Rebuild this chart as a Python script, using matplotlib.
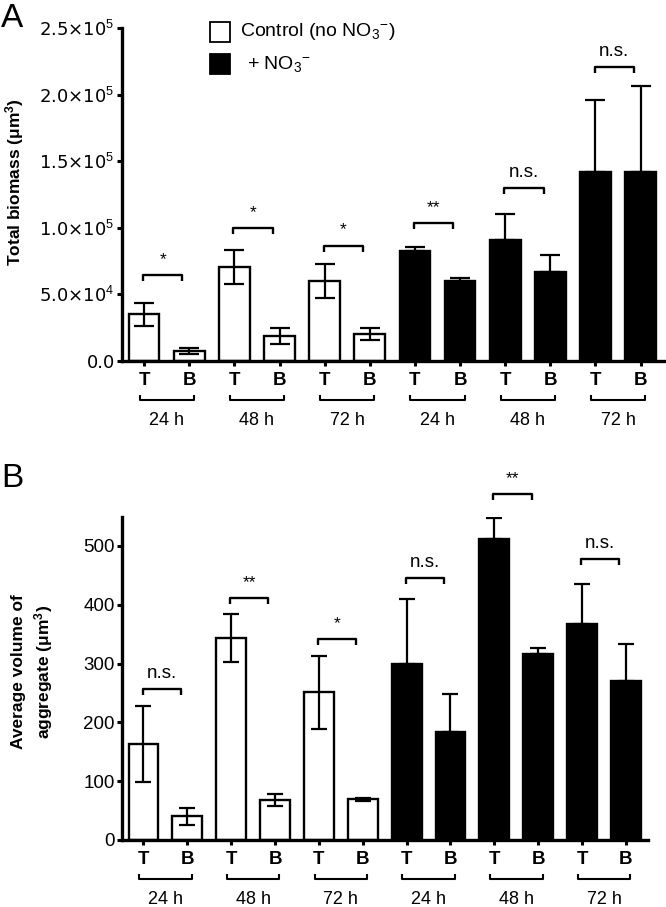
import numpy as np
import matplotlib
matplotlib.use('Agg')
import matplotlib.pyplot as plt
from matplotlib.patches import Rectangle

plt.rcParams['font.family'] = ['Liberation Sans', 'DejaVu Sans']
plt.rcParams['mathtext.fontset'] = 'custom'
plt.rcParams['mathtext.rm'] = 'Liberation Sans'
plt.rcParams['mathtext.it'] = 'Liberation Sans:italic'
plt.rcParams['mathtext.bf'] = 'Liberation Sans:bold'

# ---------------- data ----------------
bar_labels = ['T', 'B'] * 6
group_labels = ['24 h', '48 h', '72 h', '24 h', '48 h', '72 h']
legend_labels = ['Control (no NO$_3$$^{-}$)', '+ NO$_3$$^{-}$']

# Panel A: total biomass (um^3); order T24, B24, T48, B48, T72, B72
a_ctrl_mean = [35000, 7500, 70500, 19000, 60000, 20000]
a_ctrl_err = [8500, 2500, 12500, 6000, 12500, 4500]
a_no3_mean = [82500, 60000, 90500, 67000, 142000, 142000]
a_no3_err = [3000, 2000, 20000, 12500, 54000, 64500]
a_sig = ['*', '*', '*', '**', 'n.s.', 'n.s.']
a_sig_y = [64600, 100000, 86600, 103800, 129700, 221000]
a_yticks = [0, 50000, 100000, 150000, 200000, 250000]
a_yticklabels = ['0.0', '5.0×10$^{4}$', '1.0×10$^{5}$', '1.5×10$^{5}$',
                 '2.0×10$^{5}$', '2.5×10$^{5}$']

# Panel B: average volume of aggregate (um^3)
b_ctrl_mean = [163, 40, 343, 68, 251, 69]
b_ctrl_err = [65, 15, 41, 10, 62, 3]
b_no3_mean = [299, 183, 512, 317, 367, 271]
b_no3_err = [111, 66, 35, 9, 68, 62]
b_sig = ['n.s.', '**', '*', 'n.s.', '**', 'n.s.']
b_sig_y = [256, 412, 342, 446, 588, 478]
b_yticks = [0, 100, 200, 300, 400, 500]
b_yticklabels = ['0', '100', '200', '300', '400', '500']

# ---------------- figure ----------------
W, H = 666, 907
fig = plt.figure(figsize=(W / 100, H / 100), dpi=100)


def ax_rect(l, r, t, b):
    return [l / W, 1 - b / H, (r - l) / W, (b - t) / H]


axA = fig.add_axes(ax_rect(122, 665, 28, 361))
axB = fig.add_axes(ax_rect(122, 648.3, 516.6, 840))


def draw_panel(ax, ctrl_mean, ctrl_err, no3_mean, no3_err, ylim, yticks,
               yticklabels, sig, sig_y, xlim, capsize, tick_font):
    n = len(ctrl_mean)
    x_ctrl = np.arange(n)
    x_no3 = np.arange(n, 2 * n)
    ax.set_xlim(*xlim)
    ax.set_ylim(*ylim)
    ax_h_px = ax.get_position().height * H
    ppu = ax_h_px / (ylim[1] - ylim[0])  # pixels per data unit

    ax.bar(x_ctrl, ctrl_mean, width=0.68, color='white', edgecolor='black',
           linewidth=1.7, zorder=2)
    ax.errorbar(x_ctrl, ctrl_mean, yerr=ctrl_err, fmt='none', ecolor='black',
                elinewidth=1.6, capsize=capsize, capthick=1.6, zorder=3)
    ax.bar(x_no3, no3_mean, width=0.68, color='black', edgecolor='black',
           linewidth=1.7, zorder=2)
    ax.errorbar(x_no3, no3_mean, yerr=[np.zeros(n), no3_err], fmt='none',
                ecolor='black', elinewidth=1.6, capsize=capsize, capthick=1.6,
                zorder=3)

    for s in ['top', 'right']:
        ax.spines[s].set_visible(False)
    for s in ['left', 'bottom']:
        ax.spines[s].set_linewidth(2.4)
    ax.set_yticks(yticks)
    ax.set_yticklabels(yticklabels, **tick_font)
    ax.tick_params(axis='y', direction='out', length=3.8, width=2.2, pad=1.5)
    ax.set_xticks(np.arange(2 * n))
    ax.set_xticklabels(bar_labels, fontsize=13.5, fontweight='bold')
    ax.tick_params(axis='x', direction='out', length=3.8, width=2.2, pad=4.0)

    # significance brackets
    leg = 6 / ppu
    for i in range(n):
        x0 = 2 * i - 0.02
        x1 = 2 * i + 0.85
        y = sig_y[i]
        ax.plot([x0, x0, x1, x1], [y - leg, y, y, y - leg], color='black',
                lw=1.7, clip_on=False, solid_capstyle='butt', zorder=4)
        fs = 13.5 if sig[i] == 'n.s.' else 12.5
        ax.annotate(sig[i], xy=((x0 + x1) / 2, y), xytext=(0, 8),
                    textcoords='offset points', ha='center', va='baseline',
                    fontsize=fs, annotation_clip=False)

    # group brackets under the axis
    tr = ax.get_xaxis_transform()
    yb = -39 / ax_h_px
    yl = -34 / ax_h_px
    ylab = -64.4 / ax_h_px
    for g in range(n):
        xc = 2 * g + 0.5
        x0, x1 = xc - 0.6, xc + 0.6
        ax.plot([x0, x0, x1, x1], [yl, yb, yb, yl], color='black', lw=1.5,
                transform=tr, clip_on=False, solid_capstyle='butt')
        ax.text(xc, ylab, group_labels[g], transform=tr, ha='center',
                va='baseline', fontsize=13)


draw_panel(axA, a_ctrl_mean, a_ctrl_err, a_no3_mean, a_no3_err,
           (0, 250000), a_yticks, a_yticklabels, a_sig, a_sig_y,
           (-0.49, 11.54), 7.5,
           dict(fontsize=13, family=['DejaVu Sans']))
draw_panel(axB, b_ctrl_mean, b_ctrl_err, b_no3_mean, b_no3_err,
           (0, 550), b_yticks, b_yticklabels, b_sig, b_sig_y,
           (-0.49, 11.51), 6, dict(fontsize=13.5))

# y labels
fig.text(15 / W, 1 - 182 / H, 'Total biomass (μm$^{\\mathbf{3}}$)',
         rotation=90, ha='center', va='center', fontsize=12.5,
         fontweight='bold')
fig.text(33 / W, 1 - 672 / H, 'Average volume of\naggregate (μm$^{\\mathbf{3}}$)',
         rotation=90, ha='center', va='center', fontsize=12.5,
         fontweight='bold', multialignment='center', linespacing=1.3)

# panel letters
fig.text(1 / W, 1 - 27 / H, 'A', fontsize=24, ha='left', va='baseline')
fig.text(1 / W, 1 - 487 / H, 'B', fontsize=24, ha='left', va='baseline')

# legend
for k, (fc, top) in enumerate([('white', 21.7), ('black', 54)]):
    fig.add_artist(Rectangle((210 / W, 1 - (top + 20) / H), 20 / W, 20 / H,
                             facecolor=fc, edgecolor='black', linewidth=1.3,
                             transform=fig.transFigure))
fig.text(240 / W, 1 - 32 / H, legend_labels[0], fontsize=14, ha='left',
         va='center')
fig.text(247 / W, 1 - 63.5 / H, legend_labels[1], fontsize=14, ha='left',
         va='center')

fig.savefig('out.png', dpi=100)
